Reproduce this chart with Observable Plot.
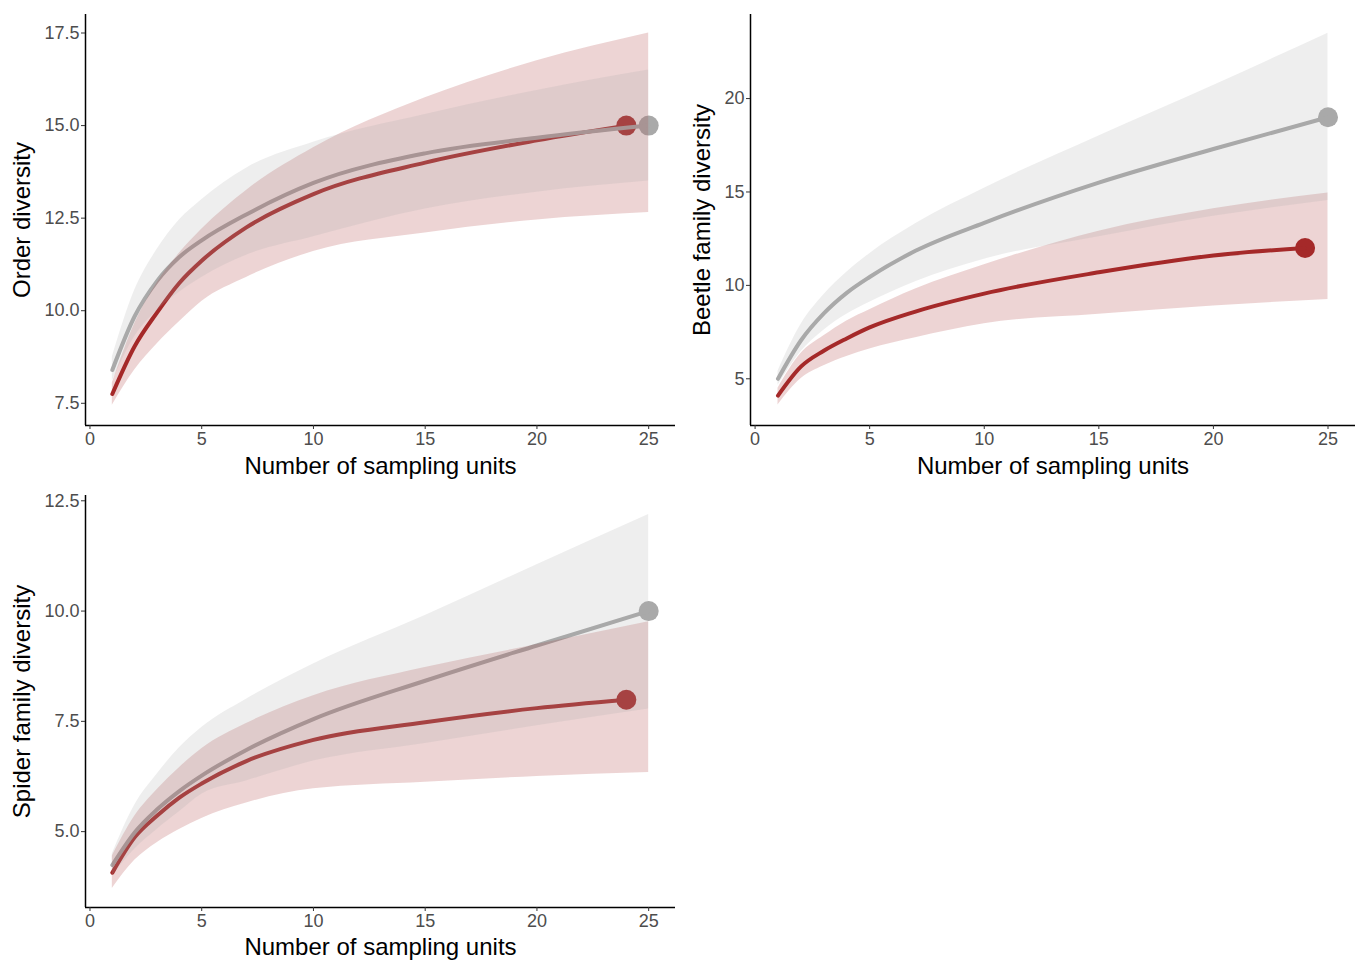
<!DOCTYPE html>
<html><head><meta charset="utf-8">
<script src="https://cdn.jsdelivr.net/npm/d3@7"></script>
<script src="https://cdn.jsdelivr.net/npm/@observablehq/plot@0.6"></script>
<style>
body{margin:0;background:#fff;}
#wrap{position:relative;width:1357px;height:961px;overflow:hidden;background:#fff;}
.panel{position:absolute;}
</style></head><body><div id="wrap"></div>
<script>
// ---- shared ----
const units = [1, 2, 3, 4, 5, 7, 10, 15, 20, 25];
const redUnits = [1, 2, 3, 4, 5, 7, 10, 15, 20, 24];
const xTicks = [0, 5, 10, 15, 20, 25];
const xTitle = "Number of sampling units";

// ---- Order diversity ----
const orderGreyMean = [8.4, 9.85, 10.8, 11.45, 11.9, 12.6, 13.45, 14.25, 14.67, 15.0];
const orderGreyLo   = [8.1, 9.3, 10.0, 10.5, 10.9, 11.5, 12.0, 12.75, 13.2, 13.5];
const orderGreyHi   = [8.75, 10.55, 11.65, 12.45, 13.0, 13.85, 14.55, 15.3, 15.95, 16.5];
const orderRedMean  = [7.75, 9.04, 9.95, 10.75, 11.35, 12.25, 13.15, 14.0, 14.6, 15.0];
const orderRedLo    = [7.45, 8.4, 9.1, 9.7, 10.25, 10.9, 11.6, 12.1, 12.45, 12.65];
const orderRedHi    = [8.05, 9.65, 10.75, 11.55, 12.2, 13.25, 14.4, 15.75, 16.75, 17.5];
const orderYTicks   = [7.5, 10, 12.5, 15, 17.5];

// ---- Beetle family diversity ----
const beetleGreyMean = [5.0, 7.05, 8.5, 9.6, 10.45, 11.85, 13.35, 15.5, 17.3, 19.0];
const beetleGreyLo   = [4.65, 6.45, 7.6, 8.45, 9.1, 10.2, 11.4, 12.6, 13.7, 14.55];
const beetleGreyHi   = [5.4, 7.9, 9.5, 10.7, 11.7, 13.3, 15.2, 18.0, 20.7, 23.5];
const beetleRedMean  = [4.1, 5.65, 6.5, 7.16, 7.75, 8.6, 9.56, 10.7, 11.6, 12.0];
const beetleRedLo    = [3.6, 5.0, 5.7, 6.2, 6.6, 7.2, 7.95, 8.45, 8.9, 9.25];
const beetleRedHi    = [4.5, 6.35, 7.3, 8.1, 8.7, 9.8, 11.1, 12.9, 14.1, 14.95];
const beetleYTicks   = [5, 10, 15, 20];

// ---- Spider family diversity ----
const spiderGreyMean = [4.24, 4.98, 5.5, 5.92, 6.27, 6.85, 7.55, 8.42, 9.22, 10.0];
const spiderGreyLo   = [4.0, 4.6, 5.05, 5.45, 5.85, 6.15, 6.6, 7.0, 7.4, 7.78];
const spiderGreyHi   = [4.5, 5.6, 6.3, 6.9, 7.36, 8.0, 8.8, 9.9, 11.05, 12.19];
const spiderRedMean  = [4.07, 4.87, 5.36, 5.77, 6.09, 6.6, 7.08, 7.48, 7.8, 7.99];
const spiderRedLo    = [3.71, 4.35, 4.75, 5.05, 5.3, 5.65, 5.97, 6.12, 6.25, 6.34];
const spiderRedHi    = [4.45, 5.35, 5.95, 6.45, 6.88, 7.45, 8.08, 8.72, 9.24, 9.76];
const spiderYTicks   = [5, 7.5, 10, 12.5];

const RED = "#A52A2A";
const GREY = "#A9A9A9";
const FONT = "'Liberation Sans', Arial, sans-serif";

function makePanel(cfg) {
  const line = (xs, ys) => xs.map((x, i) => ({x, y: ys[i]}));
  const band = (lo, hi) => units.map((x, i) => ({x, lo: lo[i], hi: hi[i]}));
  const redLine = line(redUnits, cfg.redMean);
  const greyLine = line(units, cfg.greyMean);
  const pts = [redLine[redLine.length - 1], greyLine[greyLine.length - 1]];
  const ptColors = [RED, GREY];
  const xDomain = [-0.2, 26.2];
  const fig = Plot.plot({
    width: cfg.width, height: cfg.height,
    marginLeft: cfg.mL, marginTop: cfg.mT, marginRight: cfg.mR, marginBottom: cfg.mB,
    style: {fontFamily: FONT, background: "white", overflow: "visible"},
    x: {domain: xDomain},
    y: {domain: cfg.yDomain},
    marks: [
      Plot.dot(pts, {x: "x", y: "y", r: 10, fill: (d, i) => ptColors[i], stroke: "none"}),
      Plot.line(redLine, {x: "x", y: "y", stroke: RED, strokeWidth: 4, curve: "monotone-x"}),
      Plot.line(greyLine, {x: "x", y: "y", stroke: GREY, strokeWidth: 4, curve: "monotone-x"}),
      Plot.areaY(band(cfg.redLo, cfg.redHi), {x: "x", y1: "lo", y2: "hi", fill: RED, fillOpacity: 0.2, curve: "monotone-x"}),
      Plot.areaY(band(cfg.greyLo, cfg.greyHi), {x: "x", y1: "lo", y2: "hi", fill: GREY, fillOpacity: 0.2, curve: "monotone-x"}),
      Plot.ruleX([xDomain[0]], {stroke: "black", strokeWidth: 1.5}),
      Plot.ruleY([cfg.yDomain[0]], {stroke: "black", strokeWidth: 1.5}),
      Plot.axisX({ticks: xTicks, tickSize: 4, tickPadding: 3, fontSize: 18, stroke: "#333", fill: "#4d4d4d", label: null}),
      Plot.axisY({ticks: cfg.yTicks, tickSize: 4, tickPadding: 2, fontSize: 18, stroke: "#333", fill: "#4d4d4d", tickFormat: cfg.fmt, label: null}),
      Plot.text([xTitle], {frameAnchor: "bottom", dy: cfg.xTitleDy, text: d => d, fontSize: 24, fill: "black", textAnchor: "middle", lineAnchor: "middle"}),
      Plot.text([cfg.yTitle], {frameAnchor: "left", dx: cfg.yTitleDx, rotate: -90, text: d => d, fontSize: 24, fill: "black", textAnchor: "middle", lineAnchor: "middle"})
    ]
  });
  fig.classList.add("panel");
  fig.style.left = cfg.left + "px";
  fig.style.top = cfg.top + "px";
  document.getElementById("wrap").appendChild(fig);
}

makePanel({
  left: 0, top: 0, width: 680, height: 480, mL: 85, mT: 14, mR: 5, mB: 55,
  yDomain: [6.9, 18.0], yTicks: orderYTicks, fmt: d3.format(".1f"),
  yTitle: "Order diversity", xTitleDy: 41, yTitleDx: -63,
  greyMean: orderGreyMean, greyLo: orderGreyLo, greyHi: orderGreyHi,
  redMean: orderRedMean, redLo: orderRedLo, redHi: orderRedHi
});
makePanel({
  left: 680, top: 0, width: 677, height: 480, mL: 70, mT: 14, mR: 2, mB: 55,
  yDomain: [2.5, 24.5], yTicks: beetleYTicks, fmt: d3.format("d"),
  yTitle: "Beetle family diversity", xTitleDy: 41, yTitleDx: -48,
  greyMean: beetleGreyMean, greyLo: beetleGreyLo, greyHi: beetleGreyHi,
  redMean: beetleRedMean, redLo: beetleRedLo, redHi: beetleRedHi
});
makePanel({
  left: 0, top: 480, width: 680, height: 481, mL: 85, mT: 15, mR: 5, mB: 54,
  yDomain: [3.28, 12.62], yTicks: spiderYTicks, fmt: d3.format(".1f"),
  yTitle: "Spider family diversity", xTitleDy: 40, yTitleDx: -63,
  greyMean: spiderGreyMean, greyLo: spiderGreyLo, greyHi: spiderGreyHi,
  redMean: spiderRedMean, redLo: spiderRedLo, redHi: spiderRedHi
});
</script>
</body></html>
